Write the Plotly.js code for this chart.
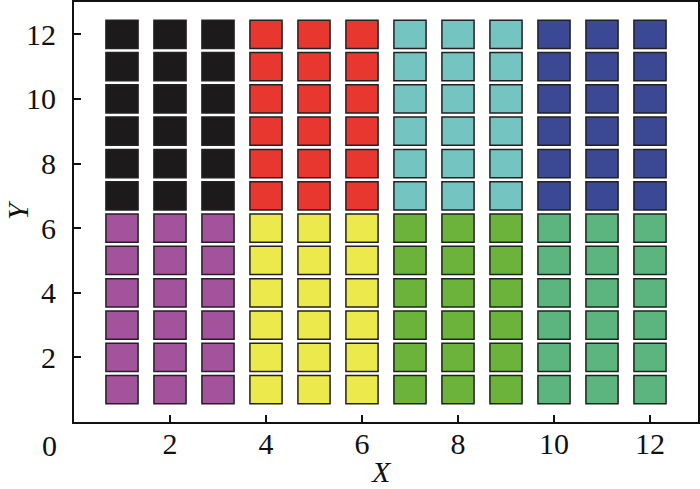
<!DOCTYPE html>
<html>
<head>
<meta charset="utf-8">
<script src="https://cdn.plot.ly/plotly-3.0.1.min.js"></script>
<style>html,body{margin:0;padding:0;background:#fff;}#chart{width:700px;height:489px;}</style>
</head>
<body>
<div id="chart"></div>
<script>
// Grid data: 12 columns x 12 rows of cells, coloured in 3-column x 6-row blocks
const groupColumns = [[1, 2, 3], [4, 5, 6], [7, 8, 9], [10, 11, 12]];
const upperRows = [7, 8, 9, 10, 11, 12];
const lowerRows = [1, 2, 3, 4, 5, 6];
const upperColors = ['#1c1a1a', '#e8372f', '#74c5c1', '#3b4894'];
const lowerColors = ['#a2539b', '#ece94c', '#6cb33b', '#5cb47f'];
const xTicks = [2, 4, 6, 8, 10, 12];
const yTicks = [2, 4, 6, 8, 10, 12];

const cellW = 0.67, cellH = 0.875;
const traces = [];
function addBlock(cols, rows, color) {
  const x = [], y = [], base = [];
  cols.forEach(c => rows.forEach(r => { x.push(c); y.push(cellH); base.push(r - cellH / 2); }));
  traces.push({
    type: 'bar', x: x, y: y, base: base, width: cellW,
    marker: {color: color, line: {color: '#222', width: 1.5}},
    hoverinfo: 'skip', showlegend: false
  });
}
groupColumns.forEach((cols, i) => {
  addBlock(cols, upperRows, upperColors[i]);
  addBlock(cols, lowerRows, lowerColors[i]);
});

const fam = 'Liberation Serif, serif';
const f = () => ({family: fam, size: 30, color: '#111'});
const layout = {
  width: 700, height: 489,
  margin: {l: 74, r: 2, t: 2, b: 67},
  paper_bgcolor: '#fff', plot_bgcolor: '#fff',
  barmode: 'overlay',
  font: f(),
  xaxis: {
    range: [0, 13], tickvals: xTicks, ticktext: xTicks.map(String),
    tickfont: f(),
    ticks: 'inside', ticklen: 7, tickwidth: 2, tickcolor: '#111',
    showline: true, mirror: true, linewidth: 2, linecolor: '#111',
    showgrid: false, zeroline: false, ticklabelstandoff: -6
  },
  yaxis: {
    range: [0, 13], tickvals: yTicks, ticktext: yTicks.map(String),
    tickfont: f(),
    ticks: 'inside', ticklen: 7, tickwidth: 2, tickcolor: '#111',
    showline: true, mirror: true, linewidth: 2, linecolor: '#111',
    showgrid: false, zeroline: false, ticklabelstandoff: 10
  },
  annotations: [
    {text: '0', xref: 'paper', yref: 'paper', x: -0.0393, y: -0.057,
     xanchor: 'center', yanchor: 'middle', showarrow: false, font: f()},
    {text: '<i>X</i>', xref: 'paper', yref: 'paper', x: 0.492, y: -0.1585,
     xanchor: 'center', yanchor: 'bottom', showarrow: false, font: f(), borderpad: 0},
    {text: '<i>Y</i>', xref: 'paper', yref: 'paper', x: -0.1178, y: 0.505,
     xanchor: 'left', yanchor: 'middle', showarrow: false, textangle: -90, font: f(), borderpad: 0}
  ]
};
Plotly.newPlot('chart', traces, layout, {staticPlot: true});
</script>
</body>
</html>
